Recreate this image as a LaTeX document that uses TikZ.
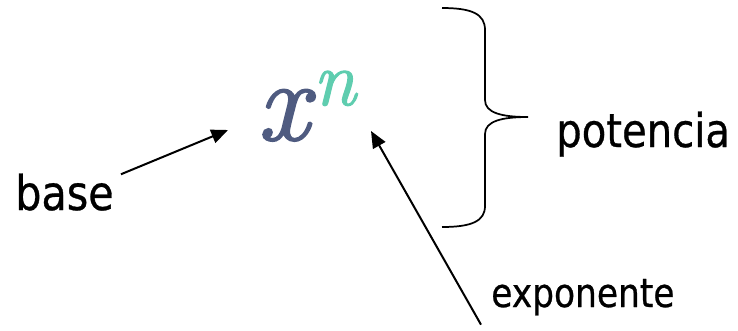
\documentclass[tikz,border=0pt]{standalone}
\definecolor{baseslate}{RGB}{79, 91, 128}
\definecolor{expteal}{RGB}{95, 205, 175}
\usepackage{fontspec}
\setmainfont{DejaVu Sans}[FakeStretch=0.86, FakeBold=0.6]
\newfontfamily\powerfont{Latin Modern Roman}[FakeBold=1.6]
\usepackage{tikz}
\usetikzlibrary{arrows.meta, positioning, calc}
\usepackage{amsmath, amssymb}

\begin{document}
\begin{tikzpicture}[x=0.75pt, y=-0.75pt,
    label/.style={anchor=base west, inner sep=0pt},
    pointer/.style={line width=1.5pt, -{Triangle[length=12.5pt, width=10.5pt]}}]
  \useasboundingbox (0,0) rectangle (738,330);

  % the power x^n
  \node[label, text=baseslate] (powx) at (257,140) {\fontsize{86}{86}\powerfont\itshape x};
  \node[label, text=expteal] (pown) at (313,105) {\fontsize{58}{58}\powerfont\itshape n};

  % labels
  \node[label] (base) at (15,210) {\fontsize{36}{36}\selectfont base};
  \node[label] (potencia) at (556,147) {\fontsize{35}{35}\selectfont potencia};
  \node[label] (exponente) at (491,307) {\fontsize{30}{30}\selectfont exponente};

  % arrow ends
  \coordinate (baseTip) at (228,130);
  \coordinate (expTip) at (371,131);
  \draw[pointer] ($(base.north east)+(7,1)$) -- (baseTip);
  \draw[pointer] ($(exponente.north west)+(-10,46)$) -- (expTip);

  % brace
  \draw[line width=1.3pt] (442,8) .. controls (472,8) and (485,14) .. (485,30) -- (485,100)
    .. controls (485,113) and (502,117) .. (528,117)
    .. controls (502,117) and (485,121) .. (485,134) -- (485,206)
    .. controls (485,221) and (472,227) .. (442,227);
\end{tikzpicture}
\end{document}
